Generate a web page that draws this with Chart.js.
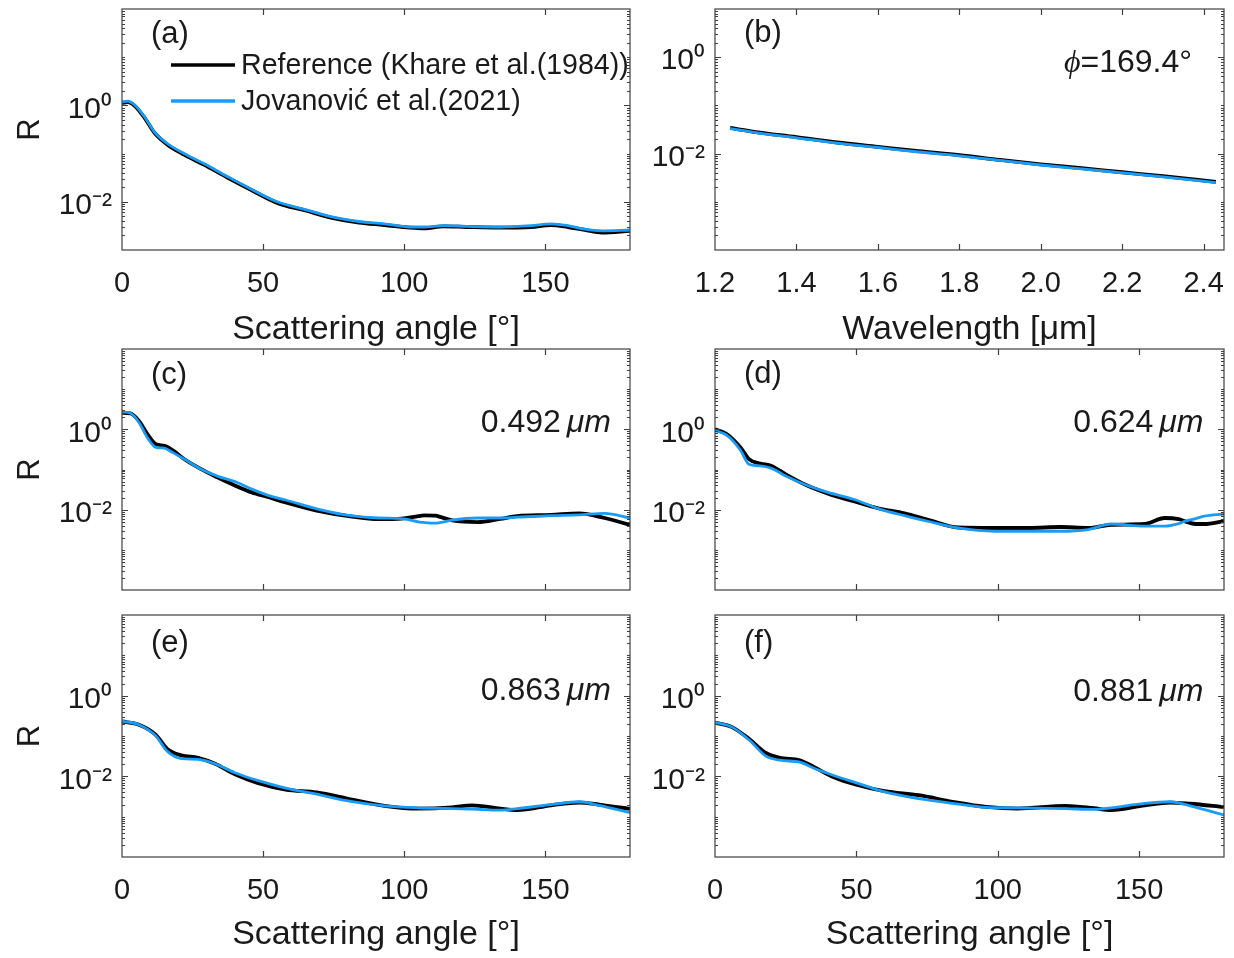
<!DOCTYPE html>
<html>
<head>
<meta charset="utf-8">
<script src="https://cdn.jsdelivr.net/npm/chart.js@4.4.1/dist/chart.umd.min.js"></script>
<style>
html, body { margin: 0; padding: 0; background: #ffffff; width: 1234px; height: 958px; overflow: hidden; }
#stage { position: absolute; left: 0; top: 0; height: 958px; transform-origin: 0 0; }
#stage canvas { position: absolute; left: 0; top: 0; }
</style>
</head>
<body>
<div id="stage"></div>
<script>
// ---------------- DATA ----------------
const legendRef = 'Reference (Khare et al.(1984))';
const legendJov = 'Jovanović et al.(2021)';

const angleTicks = [0, 50, 100, 150];
const wlTicks = [1.2, 1.4, 1.6, 1.8, 2.0, 2.2, 2.4];
const rTicks = [0.01, 1];
const rTickLabels = ['10⁻²', '10⁰'];

// (a)
const angA = [0, 2, 4.5, 8, 11.5, 16, 22, 29, 37.5, 46, 55, 65, 74, 84, 93, 102, 107, 114, 122, 134, 145, 152, 158, 164, 170, 180];
const refA = [1.12, 1.17, 0.98, 0.55, 0.27, 0.155, 0.095, 0.059, 0.0316, 0.0174, 0.0095, 0.0066, 0.0047, 0.0037, 0.0033, 0.0029, 0.0028, 0.0031, 0.0030, 0.0029, 0.0030, 0.0033, 0.0030, 0.0026, 0.0023, 0.0025];
const jovA = [1.17, 1.23, 1.02, 0.575, 0.28, 0.162, 0.10, 0.062, 0.033, 0.018, 0.010, 0.0069, 0.0049, 0.0039, 0.0035, 0.0030, 0.0030, 0.0032, 0.0031, 0.0030, 0.0032, 0.0035, 0.0032, 0.0027, 0.0025, 0.0026];

// (b) phi = 169.4 deg
const wlB = [1.237, 1.3, 1.4, 1.5, 1.6, 1.7, 1.8, 1.9, 2.0, 2.1, 2.2, 2.3, 2.43];
const refB = [0.034, 0.028, 0.022, 0.017, 0.0138, 0.0112, 0.0093, 0.0074, 0.0060, 0.0050, 0.0041, 0.0034, 0.0026];
const jovB = [0.033, 0.0272, 0.0213, 0.0165, 0.0134, 0.0108, 0.0090, 0.0072, 0.0058, 0.0048, 0.0040, 0.0033, 0.0025];

// (c) 0.492 um
const angC = [0, 3, 6, 9, 12, 15, 18, 22, 28, 34, 40, 46, 52, 58, 69, 81, 91, 99, 105, 107, 111, 113, 117, 126, 134, 140, 152, 162, 171, 180];
const refC = [2.57, 2.51, 1.62, 0.759, 0.427, 0.389, 0.302, 0.182, 0.102, 0.063, 0.040, 0.0269, 0.0204, 0.0151, 0.0095, 0.0068, 0.0058, 0.0060, 0.0069, 0.0072, 0.0071, 0.0065, 0.0054, 0.0049, 0.0059, 0.0069, 0.0074, 0.0081, 0.0062, 0.0042];
const jovC = [2.69, 2.51, 1.48, 0.617, 0.355, 0.339, 0.263, 0.182, 0.102, 0.0676, 0.0501, 0.0324, 0.0224, 0.0174, 0.0105, 0.0071, 0.0062, 0.0060, 0.0050, 0.0048, 0.0046, 0.0048, 0.0055, 0.0062, 0.0062, 0.0065, 0.0071, 0.0074, 0.0081, 0.0062];

// (d) 0.624 um
const angD = [0, 4, 9, 12, 16, 20, 25, 32, 40, 49, 58, 67, 76, 86, 99, 111, 122, 132, 140, 152, 159, 164, 166, 170, 173, 180];
const refD = [1.0, 0.776, 0.355, 0.182, 0.141, 0.123, 0.0759, 0.0417, 0.0251, 0.0162, 0.0107, 0.0081, 0.0054, 0.0036, 0.0035, 0.0035, 0.0037, 0.0035, 0.0042, 0.0044, 0.0062, 0.0058, 0.0052, 0.0044, 0.0044, 0.0052];
const jovD = [0.933, 0.724, 0.302, 0.135, 0.123, 0.107, 0.0692, 0.0417, 0.0269, 0.0182, 0.0105, 0.0071, 0.0050, 0.0035, 0.0029, 0.0029, 0.0029, 0.0032, 0.0044, 0.0039, 0.0039, 0.0045, 0.0051, 0.0060, 0.0069, 0.0078];

// (e) 0.863 um
const angE = [0, 6, 12, 16, 21, 27, 33, 40, 48, 58, 69, 81, 93, 105, 117, 124, 134, 140, 152, 162, 169, 180];
const refE = [0.229, 0.191, 0.107, 0.0479, 0.0331, 0.0288, 0.0204, 0.0112, 0.0069, 0.0047, 0.0040, 0.0027, 0.00186, 0.00158, 0.0017, 0.00191, 0.00158, 0.00145, 0.00191, 0.00224, 0.0020, 0.00155];
const jovE = [0.234, 0.191, 0.100, 0.0417, 0.0275, 0.0263, 0.0204, 0.0123, 0.0079, 0.0051, 0.0036, 0.0024, 0.00186, 0.00166, 0.00158, 0.00155, 0.00145, 0.00158, 0.0020, 0.00234, 0.0019, 0.00126];

// (f) 0.881 um
const angF = [0, 6, 12, 18, 23, 30, 35, 42, 50, 60, 72, 84, 96, 107, 124, 134, 140, 152, 161, 168, 180];
const refF = [0.214, 0.166, 0.085, 0.038, 0.0288, 0.0251, 0.0170, 0.0095, 0.0062, 0.0043, 0.0034, 0.00234, 0.00174, 0.00158, 0.00186, 0.00162, 0.00145, 0.00191, 0.00224, 0.00209, 0.00174];
const jovF = [0.219, 0.166, 0.081, 0.0316, 0.0251, 0.0224, 0.0158, 0.0105, 0.0069, 0.0041, 0.0028, 0.00214, 0.0017, 0.00166, 0.00158, 0.00151, 0.00166, 0.00214, 0.00234, 0.00186, 0.0011];

// ---------------- LAYOUT / STYLE ----------------
const S = 1;
const CW = Math.round(1234 / S), CH = 958;
const FONT = '"Liberation Sans", Arial, Helvetica, sans-serif';
const BLUE = '#1a9bf5';
const TXT = '#1a1a1a';
const XTICK_SIZE = 29, YTICK_SIZE = 30, TITLE_SIZE = 34, R_SIZE = 31;

const stage = document.getElementById('stage');
stage.style.width = CW + 'px';
stage.style.transform = 'scaleX(' + (1234 / CW) + ')';

const framePlugin = {
  id: 'frame',
  afterDatasetsDraw(chart) {
    const { ctx, chartArea: a } = chart;
    const xs = chart.scales.x, ys = chart.scales.y;
    ctx.save();
    ctx.strokeStyle = '#3f3f3f';
    ctx.lineWidth = 1.2;
    ctx.beginPath();
    xs.ticks.forEach(t => {
      const p = Math.round(xs.getPixelForValue(t.value)) + 0.5;
      if (p <= a.left + 1 || p >= a.right - 1) return;
      ctx.moveTo(p, a.bottom); ctx.lineTo(p, a.bottom - 6);
      ctx.moveTo(p, a.top); ctx.lineTo(p, a.top + 6);
    });
    const e0 = Math.floor(Math.log10(ys.min) + 1e-9), e1 = Math.ceil(Math.log10(ys.max) - 1e-9);
    for (let e = e0; e < e1; e++) {
      for (let k = 1; k < 10; k++) {
        const v = k * Math.pow(10, e);
        if (v <= ys.min * 1.0001 || v >= ys.max * 0.9999) continue;
        const major = ys.ticks.some(t => Math.abs(t.value / v - 1) < 1e-6);
        const len = major ? 6 : 3;
        const p = Math.round(ys.getPixelForValue(v)) + 0.5;
        ctx.moveTo(a.left, p); ctx.lineTo(a.left + len, p);
        ctx.moveTo(a.right, p); ctx.lineTo(a.right - len, p);
      }
    }
    ctx.stroke();
    ctx.strokeRect(a.left, a.top, a.right - a.left, a.bottom - a.top);
    ctx.restore();
  }
};

const annotPlugin = {
  id: 'annot',
  afterDraw(chart, args, o) {
    const { ctx, chartArea: a } = chart;
    ctx.save();
    ctx.fillStyle = TXT;
    ctx.textBaseline = 'alphabetic';
    ctx.textAlign = 'left';
    ctx.font = o.labelSize + 'px ' + FONT;
    ctx.fillText(o.label, a.left + o.labelDx, a.top + o.labelDy);
    if (o.num) {
      const xr = a.right - o.noteDx;
      ctx.textAlign = 'right';
      ctx.font = 'italic ' + o.noteSize + 'px ' + FONT;
      ctx.fillText(o.unit, xr, a.top + o.noteDy);
      const w = ctx.measureText(o.unit).width;
      ctx.font = o.noteSize + 'px ' + FONT;
      ctx.fillText(o.num, xr - w - o.noteGap, a.top + o.noteDy);
    }
    if (o.phiText) {
      const xr = a.right - o.noteDx;
      ctx.textAlign = 'right';
      ctx.font = o.noteSize + 'px ' + FONT;
      ctx.fillText(o.phiText, xr, a.top + o.noteDy);
      const w = ctx.measureText(o.phiText).width;
      ctx.font = 'italic ' + o.noteSize + 'px "Liberation Serif", "DejaVu Serif", serif';
      ctx.fillText(o.phiSym, xr - w, a.top + o.noteDy);
    }
    if (o.legend) {
      chart.data.datasets.forEach((ds, i) => {
        const y = a.top + o.legendY[i];
        ctx.strokeStyle = ds.borderColor;
        ctx.lineWidth = 3.6;
        ctx.beginPath();
        ctx.moveTo(a.left + o.legendX0, y);
        ctx.lineTo(a.left + o.legendX1, y);
        ctx.stroke();
        ctx.textAlign = 'left';
        ctx.textBaseline = 'middle';
        ctx.font = o.legendSize + 'px ' + FONT;
        ctx.fillStyle = TXT;
        ctx.fillText(ds.label, a.left + o.legendTx, y + 1);
      });
    }
    ctx.restore();
  }
};

function zip(xs, ys) { return xs.map((x, i) => ({ x: x, y: ys[i] })); }

const panels = [
  { L: 122, R: 630, T: 9, B: 250, xBottom: 350.5, x: angA, ref: refA, jov: jovA, xMin: 0, xMax: 180,
    xTicks: angleTicks, xFmt: v => String(v), xLabels: true, xTitle: 'Scattering angle [°]',
    yMin: 1e-3, yMax: 1e2, yTitle: 'R',
    annot: { label: '(a)', labelDx: 29, labelDy: 33.5, labelSize: 31, legend: true,
             legendX0: 49, legendX1: 113, legendTx: 119, legendY: [56, 92], legendSize: 28.6 } },
  { L: 715, R: 1224, T: 9, B: 250, xBottom: 350.5, x: wlB, ref: refB, jov: jovB, xMin: 1.2, xMax: 2.45,
    xTicks: wlTicks, xFmt: v => v.toFixed(1), xLabels: true, xTitle: 'Wavelength [μm]',
    yMin: 1e-4, yMax: 1e1, yTitle: '',
    annot: { label: '(b)', labelDx: 29, labelDy: 32.5, labelSize: 31,
             phiSym: 'ϕ', phiText: '=169.4°', noteDx: 32, noteDy: 62.7, noteSize: 32 } },
  { L: 122, R: 630, T: 349, B: 590, xBottom: null, x: angC, ref: refC, jov: jovC, xMin: 0, xMax: 180,
    xTicks: angleTicks, xFmt: v => String(v), xLabels: false, xTitle: '',
    yMin: 1e-4, yMax: 1e2, yTitle: 'R',
    annot: { label: '(c)', labelDx: 29, labelDy: 35, labelSize: 31,
             num: '0.492', unit: 'μm', noteDx: 19, noteDy: 83.3, noteSize: 32, noteGap: 6 } },
  { L: 715, R: 1224, T: 349, B: 590, xBottom: null, x: angD, ref: refD, jov: jovD, xMin: 0, xMax: 180,
    xTicks: angleTicks, xFmt: v => String(v), xLabels: false, xTitle: '',
    yMin: 1e-4, yMax: 1e2, yTitle: '',
    annot: { label: '(d)', labelDx: 29, labelDy: 33.5, labelSize: 31,
             num: '0.624', unit: 'μm', noteDx: 20.5, noteDy: 83.3, noteSize: 32, noteGap: 6 } },
  { L: 122, R: 630, T: 615, B: 857, xBottom: 955.5, x: angE, ref: refE, jov: jovE, xMin: 0, xMax: 180,
    xTicks: angleTicks, xFmt: v => String(v), xLabels: true, xTitle: 'Scattering angle [°]',
    yMin: 1e-4, yMax: 1e2, yTitle: 'R',
    annot: { label: '(e)', labelDx: 29, labelDy: 37, labelSize: 31,
             num: '0.863', unit: 'μm', noteDx: 19, noteDy: 85, noteSize: 32, noteGap: 6 } },
  { L: 715, R: 1224, T: 615, B: 857, xBottom: 955.5, x: angF, ref: refF, jov: jovF, xMin: 0, xMax: 180,
    xTicks: angleTicks, xFmt: v => String(v), xLabels: true, xTitle: 'Scattering angle [°]',
    yMin: 1e-4, yMax: 1e2, yTitle: '',
    annot: { label: '(f)', labelDx: 29, labelDy: 37, labelSize: 31,
             num: '0.881', unit: 'μm', noteDx: 20.5, noteDy: 85.5, noteSize: 32, noteGap: 6 } }
];

function makePanel(p) {
  const c = document.createElement('canvas');
  c.width = CW; c.height = CH;
  stage.appendChild(c);
  const L = p.L / S, R = p.R / S;
  const padLeft = p.yTitle ? 12 / S : L - 130;
  const yW = L - padLeft;
  const xH = p.xBottom ? p.xBottom - p.B : 4;
  const sc = v => v / S;
  const an = Object.assign({}, p.annot);
  ['labelDx', 'noteDx', 'noteGap', 'legendX0', 'legendX1', 'legendTx'].forEach(k => { if (an[k] !== undefined) an[k] = sc(an[k]); });
  new Chart(c, {
    type: 'line',
    data: {
      datasets: [
        { label: legendRef, data: zip(p.x, p.ref), borderColor: '#000000', borderWidth: 3.8, order: 2 },
        { label: legendJov, data: zip(p.x, p.jov), borderColor: BLUE, borderWidth: 2.8, order: 1 }
      ]
    },
    options: {
      responsive: false,
      animation: false,
      devicePixelRatio: 1,
      events: [],
      layout: { padding: { left: padLeft, right: CW - R, top: p.T, bottom: CH - p.B - xH } },
      elements: { point: { radius: 0 }, line: { cubicInterpolationMode: 'monotone', fill: false } },
      plugins: { legend: { display: false }, tooltip: { enabled: false }, annot: an },
      scales: {
        x: {
          type: 'linear', min: p.xMin, max: p.xMax,
          afterBuildTicks: s => { s.ticks = p.xTicks.map(v => ({ value: v })); },
          afterFit: s => { s.height = xH; s.paddingLeft = 0; s.paddingRight = 0; },
          grid: { display: false, drawTicks: false }, border: { display: false },
          ticks: { display: p.xLabels, padding: 16.5, autoSkip: false, maxRotation: 0, minRotation: 0,
                   color: TXT, font: { family: FONT, size: XTICK_SIZE }, callback: v => p.xFmt(v) },
          title: { display: !!p.xTitle, text: p.xTitle, color: TXT, padding: 0,
                   font: { family: FONT, size: TITLE_SIZE } }
        },
        y: {
          type: 'logarithmic', min: p.yMin, max: p.yMax,
          afterBuildTicks: s => { s.ticks = rTicks.map(v => ({ value: v })); },
          afterFit: s => { s.width = yW; s.paddingTop = 0; s.paddingBottom = 0; },
          grid: { display: false, drawTicks: false }, border: { display: false },
          ticks: { padding: 10, labelOffset: 4, autoSkip: false, color: TXT, font: { family: FONT, size: YTICK_SIZE },
                   callback: (v, i) => rTickLabels[i] },
          title: { display: !!p.yTitle, text: p.yTitle, color: TXT, padding: 0,
                   font: { family: FONT, size: R_SIZE } }
        }
      }
    },
    plugins: [framePlugin, annotPlugin]
  });
}

panels.forEach(makePanel);
</script>
</body>
</html>
